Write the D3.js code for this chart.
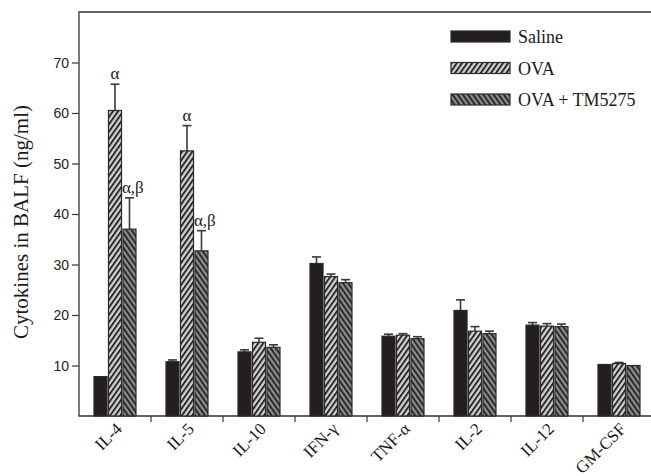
<!DOCTYPE html>
<html>
<head>
<meta charset="utf-8">
<script src="https://cdn.jsdelivr.net/npm/d3@7"></script>
<style>
  body { margin: 0; background: #fff; }
  svg { display: block; }
  .tick-label { font-family: "Liberation Sans", Arial, sans-serif; font-size: 14px; fill: #222; }
  .serif { font-family: "Liberation Serif", "Times New Roman", serif; fill: #1a1a1a; }
</style>
</head>
<body>
<div id="chart-area"></div>
<script>
const cytokines = ["IL-4", "IL-5", "IL-10", "IFN-\u03b3", "TNF-\u03b1", "IL-2", "IL-12", "GM-CSF"];
const groups = ["Saline", "OVA", "OVA + TM5275"];
const saline = [7.8, 10.75, 12.7, 30.2, 15.8, 20.9, 18.0, 10.2];
const salineErr = [7.8, 11.1, 13.1, 31.5, 16.2, 23.0, 18.5, 10.2];
const ova = [60.5, 52.5, 14.6, 27.6, 16.0, 16.8, 17.8, 10.4];
const ovaErr = [65.7, 57.5, 15.4, 28.1, 16.3, 17.7, 18.3, 10.6];
const tm = [37.0, 32.7, 13.6, 26.4, 15.3, 16.3, 17.7, 10.0];
const tmErr = [43.2, 36.7, 14.1, 27.0, 15.7, 16.8, 18.2, 10.0];
const yTicks = [10, 20, 30, 40, 50, 60, 70];
const marks = [
  { cat: "IL-4", group: "OVA", text: "\u03b1" },
  { cat: "IL-4", group: "OVA + TM5275", text: "\u03b1,\u03b2" },
  { cat: "IL-5", group: "OVA", text: "\u03b1" },
  { cat: "IL-5", group: "OVA + TM5275", text: "\u03b1,\u03b2" }
];

const drawChart = () => {
  const size = { width: 651, height: 476 };
  const left = 79, right = 655, top = 12, bottom = 416;

  const rows = [];
  cytokines.forEach((c, i) => {
    rows.push({ cat: c, group: groups[0], v: saline[i], e: salineErr[i] });
    rows.push({ cat: c, group: groups[1], v: ova[i], e: ovaErr[i] });
    rows.push({ cat: c, group: groups[2], v: tm[i], e: tmErr[i] });
  });

  const x = d3.scaleBand().domain(cytokines).range([left, right]);
  const xs = d3.scaleBand().domain(groups).range([15, 57]).paddingInner(0.1);
  const y = d3.scaleLinear().domain([0, 80]).range([bottom, top]);

  const svg = d3.select("#chart-area").append("svg")
    .attr("width", size.width).attr("height", size.height);

  const defs = svg.append("defs");
  const hatch = (id, bg, angle) => {
    const p = defs.append("pattern").attr("id", id)
      .attr("patternUnits", "userSpaceOnUse")
      .attr("width", 4.2).attr("height", 4.2)
      .attr("patternTransform", `rotate(${angle})`);
    p.append("rect").attr("width", 4.2).attr("height", 4.2).attr("fill", bg);
    p.append("rect").attr("width", 1.9).attr("height", 4.2).attr("fill", "#262626");
  };
  hatch("h-ova", "#d0d0d0", 35);
  hatch("h-tm", "#8c8c8c", -35);
  const fill = { "Saline": "#231f20", "OVA": "url(#h-ova)", "OVA + TM5275": "url(#h-tm)" };

  // frame: left, top, bottom
  svg.append("path")
    .attr("d", `M${right},${top}H${left}V${bottom}H${size.width}`)
    .attr("fill", "none").attr("stroke", "#333").attr("stroke-width", 1.3);

  // y axis ticks
  const yAxis = d3.axisLeft(y).tickValues(yTicks).tickSize(7).tickSizeOuter(0);
  const ya = svg.append("g").attr("transform", `translate(${left},0)`).call(yAxis);
  ya.select(".domain").remove();
  ya.selectAll("line").attr("stroke", "#333").attr("stroke-width", 1.2);
  ya.selectAll("text").attr("class", "tick-label").attr("x", -10).attr("dy", "0.35em");

  // x ticks at category boundaries
  svg.append("g").selectAll("line").data(cytokines.slice(1)).enter().append("line")
    .attr("x1", d => x(d)).attr("x2", d => x(d))
    .attr("y1", bottom).attr("y2", bottom + 6)
    .attr("stroke", "#333").attr("stroke-width", 1.2);

  svg.append("g").selectAll("text").data(cytokines).enter().append("text")
    .attr("class", "serif")
    .attr("font-size", 17)
    .attr("text-anchor", "end")
    .attr("transform", d => `translate(${x(d) + x.bandwidth() / 2 + 8},${bottom + 14}) rotate(-45)`)
    .text(d => d);

  // y label
  svg.append("text").attr("class", "serif")
    .attr("font-size", 21)
    .attr("text-anchor", "middle")
    .attr("transform", "translate(28,222) rotate(-90)")
    .text("Cytokines in BALF (ng/ml)");

  const g = svg.append("g");
  // error bars
  const eb = g.selectAll(".err").data(rows.filter(r => r.e > r.v)).enter().append("g")
    .attr("stroke", "#3a3a3a").attr("stroke-width", 1.6);
  eb.append("line")
    .attr("x1", r => x(r.cat) + xs(r.group) + xs.bandwidth() / 2)
    .attr("x2", r => x(r.cat) + xs(r.group) + xs.bandwidth() / 2)
    .attr("y1", r => y(r.v)).attr("y2", r => y(r.e));
  eb.append("line")
    .attr("x1", r => x(r.cat) + xs(r.group) + xs.bandwidth() / 2 - 4.5)
    .attr("x2", r => x(r.cat) + xs(r.group) + xs.bandwidth() / 2 + 4.5)
    .attr("y1", r => y(r.e)).attr("y2", r => y(r.e));

  g.selectAll("rect").data(rows).enter().append("rect")
    .attr("x", r => x(r.cat) + xs(r.group))
    .attr("y", r => y(r.v))
    .attr("width", xs.bandwidth())
    .attr("height", r => y(0) - y(r.v))
    .attr("fill", r => fill[r.group])
    .attr("stroke", "#2a2a2a").attr("stroke-width", 1.2);

  // significance marks
  const errOf = m => rows.find(r => r.cat === m.cat && r.group === m.group);
  svg.append("g").selectAll("text").data(marks).enter().append("text")
    .attr("class", "serif").attr("font-size", 17)
    .attr("text-anchor", m => m.text.length > 1 ? "start" : "middle")
    .attr("x", m => m.text.length > 1
      ? x(m.cat) + xs(m.group) - 1
      : x(m.cat) + xs(m.group) + xs.bandwidth() / 2)
    .attr("y", m => y(errOf(m).e) - 5)
    .text(m => m.text);

  // legend
  const lg = svg.append("g").selectAll("g").data(groups).enter().append("g")
    .attr("transform", (d, i) => `translate(451,${31 + i * 31.5})`);
  lg.append("rect").attr("width", 59).attr("height", 11)
    .attr("fill", d => fill[d]).attr("stroke", "#2a2a2a").attr("stroke-width", 1.2);
  lg.append("text").attr("class", "serif").attr("font-size", 18)
    .attr("x", 67).attr("y", 12).text(d => d);
};

window.onload = drawChart;
</script>
</body>
</html>
